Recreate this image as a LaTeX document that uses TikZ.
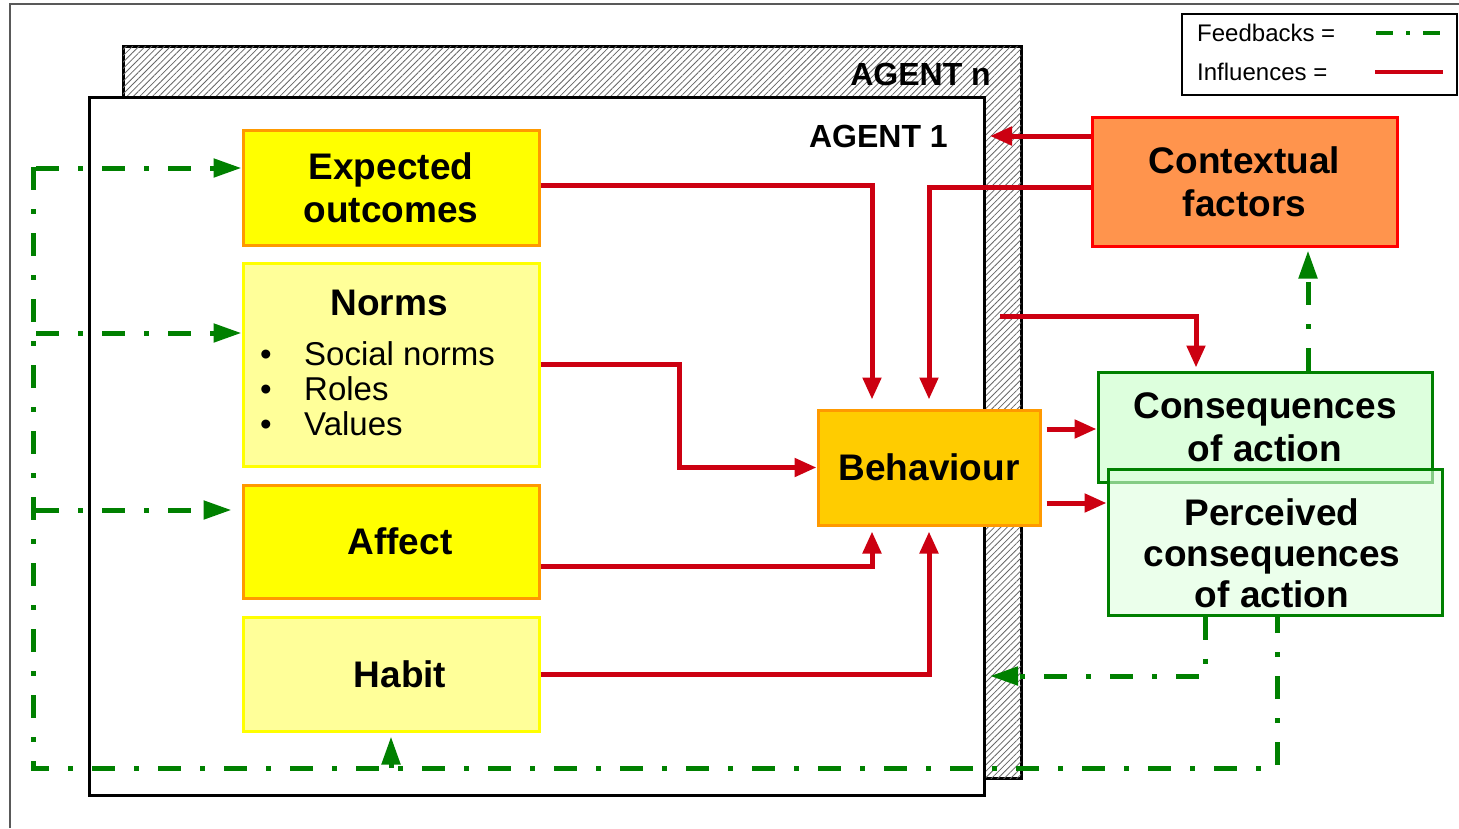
\documentclass[tikz,border=0pt]{standalone}
\usepackage{fontspec}
\setmainfont{Liberation Sans}
\usetikzlibrary{arrows.meta,patterns.meta}
\definecolor{infl}{RGB}{204,0,17}
\definecolor{fbg}{RGB}{0,128,0}
\definecolor{yel}{RGB}{255,255,0}
\definecolor{lyel}{RGB}{255,255,153}
\definecolor{orb}{RGB}{255,153,0}
\definecolor{behf}{RGB}{255,204,0}
\definecolor{ctxf}{RGB}{255,148,77}
\definecolor{grf}{RGB}{221,255,221}
\begin{document}
\begin{tikzpicture}[x=1pt,y=-1pt,
  big/.style={font=\fontsize{37}{43}\selectfont\bfseries, align=center},
  box/.style={draw, line width=3pt, inner sep=0pt, minimum width=296pt, big},
  plain/.style={inner sep=0pt, font=\fontsize{33}{36}\selectfont},
  inf/.style={draw=infl, line width=5pt, -{Triangle[length=22pt,width=18pt]}},
  fbline/.style={draw=fbg, line width=5pt, dash pattern=on 23pt off 19pt on 5pt off 19pt},
  fb/.style={fbline, -{Triangle[length=28pt,width=18pt]}},
]
\useasboundingbox (0,0) rectangle (1459,828);
% outer frame
\draw[line width=2pt, black!65] (10,828) -- (10,4) -- (1459,4);

% agent boxes
\node[draw, line width=3pt, fill=white, minimum width=898pt, minimum height=732pt, inner sep=0pt,
  postaction={pattern={Lines[angle=45,distance=4.5pt,line width=0.8pt]}, pattern color=black!60}]
  (agentn) at (572,412) {};
\node[draw, line width=3pt, fill=white, minimum width=895pt, minimum height=698pt, inner sep=0pt]
  (agent1) at (536.5,446) {};
\node[anchor=base east, inner sep=0pt, font=\fontsize{32}{38}\selectfont\bfseries] (agntxt) at (991,85) {AGENT n};
\node[anchor=base east, inner sep=0pt, font=\fontsize{32}{38}\selectfont\bfseries] (ag1txt) at (948,147) {AGENT 1};

% legend
\node[draw, line width=1.5pt, minimum width=275pt, minimum height=81pt, inner sep=0pt] (legend) at (1319.5,54.5) {};
\node[anchor=base west, inner sep=0pt, font=\fontsize{24}{28}\selectfont] (fbtxt) at (1197,41) {Feedbacks =};
\node[anchor=base west, inner sep=0pt, font=\fontsize{24}{28}\selectfont] (inftxt) at (1197,80) {Influences =};
\draw[fbg, line width=4pt, dash pattern=on 17pt off 13pt on 4pt off 13pt] (1376,33) -- (1442,33);
\draw[infl, line width=4pt] (1375,72) -- (1443,72);

% left boxes
\node[box, draw=orb, fill=yel, minimum height=115pt] (eo) at (391,187.5) {Expected\\outcomes};
\node[box, draw=yel, fill=lyel, minimum height=203pt] (norms) at (391,364.5) {};
\node[anchor=base, inner sep=0pt, big] (normsh) at (389,315) {Norms};
\node[anchor=base, plain] (bu1) at (266,365) {•};
\node[anchor=base, plain] (bu2) at (266,400) {•};
\node[anchor=base, plain] (bu3) at (266,435) {•};
\node[anchor=base west, plain] (sn) at (304,365) {Social norms};
\node[anchor=base west, plain] (ro) at (304,400) {Roles};
\node[anchor=base west, plain] (va) at (304,435) {Values};
\node[box, draw=orb, fill=yel, minimum height=113pt] (affect) at (391,541.5) {\hspace*{18pt}Affect};
\node[box, draw=yel, fill=lyel, minimum height=114pt] (habit) at (391,674) {\hspace*{18pt}Habit};

% behaviour
\node[box, draw=orb, fill=behf, minimum width=222pt, minimum height=115pt] (beh) at (929,467.5) {Behaviour};

% right boxes
\node[box, draw=red, fill=ctxf, minimum width=305pt, minimum height=129pt] (ctx) at (1244.5,181.5) {Contextual\\factors};
\node[box, draw=fbg, fill=grf, minimum width=334pt, minimum height=110pt] (cons) at (1265,427) {Consequences\\of action};
\node[draw=fbg, line width=3pt, fill=grf, fill opacity=0.6, minimum width=334pt, minimum height=146pt, inner sep=0pt] (perc) at (1275,542) {};
\node[big, inner sep=0pt, font=\fontsize{37}{41}\selectfont\bfseries] (perctxt) at (1272,553) {Perceived\\consequences\\of action};

% coordinates
\coordinate (a1tip) at (990,136);
\coordinate (agst) at (1000,316);
\coordinate (x1196) at (1196,0);
\coordinate (x1205) at (1205,0);
\coordinate (x1277) at (1277,0);
\coordinate (x1308) at (1308,0);
\coordinate (x679) at (679,0);
\coordinate (fbtl) at (33,167);
\coordinate (fbbl) at (33,768);
\coordinate (fbbr) at (1277,768);
\coordinate (b1) at (36,168);
\coordinate (b2) at (36,333);
\coordinate (b3) at (36,510);
\coordinate (hb) at (391,768);
\coordinate (p2) at (1205,676);
\coordinate (a1fb) at (990,676);

% influences (yshift is in page direction: positive = up)
\draw[inf, shorten >=9pt] ([yshift=2.5pt]eo.east) -| ([xshift=-57pt]beh.north);
\draw[inf, shorten >=9pt] ([yshift=-5.5pt]ctx.west) -| (beh.north);
\draw[inf] ([yshift=45.5pt]ctx.west) -- (a1tip);
\draw[inf, shorten >=3pt] (agst) -| (cons.north -| x1196);
\draw[inf] (norms.east) -- (norms.east -| x679) |- (beh.west);
\draw[inf, shorten >=5pt] ([yshift=-24.5pt]affect.east) -| ([xshift=-57pt]beh.south);
\draw[inf, shorten >=5pt] (habit.east) -| (beh.south);
\draw[inf, shorten <=5pt] ([yshift=38.5pt]beh.east) -- ([yshift=38.5pt]beh.east -| cons.west);
\draw[inf, shorten <=5pt] ([yshift=-35.5pt]beh.east) -- ([yshift=-35.5pt]beh.east -| perc.west);

% feedbacks
\draw[fbline] (fbtl) -- (fbbl) -- (fbbr) -- (perc.south -| x1277);
\draw[fb] (b1) -- (b1 -| eo.west);
\draw[fb] (b2) -- (b2 -| norms.west);
\draw[fb, shorten >=10pt] (b3) -- (b3 -| affect.west);
\draw[fb, shorten >=4pt] (hb) -- (habit.south);
\draw[fb] (perc.south -| x1205) -- (p2) -- (a1fb);
\draw[fb, shorten >=3pt] (cons.north -| x1308) -- (ctx.south -| x1308);
\end{tikzpicture}
\end{document}
